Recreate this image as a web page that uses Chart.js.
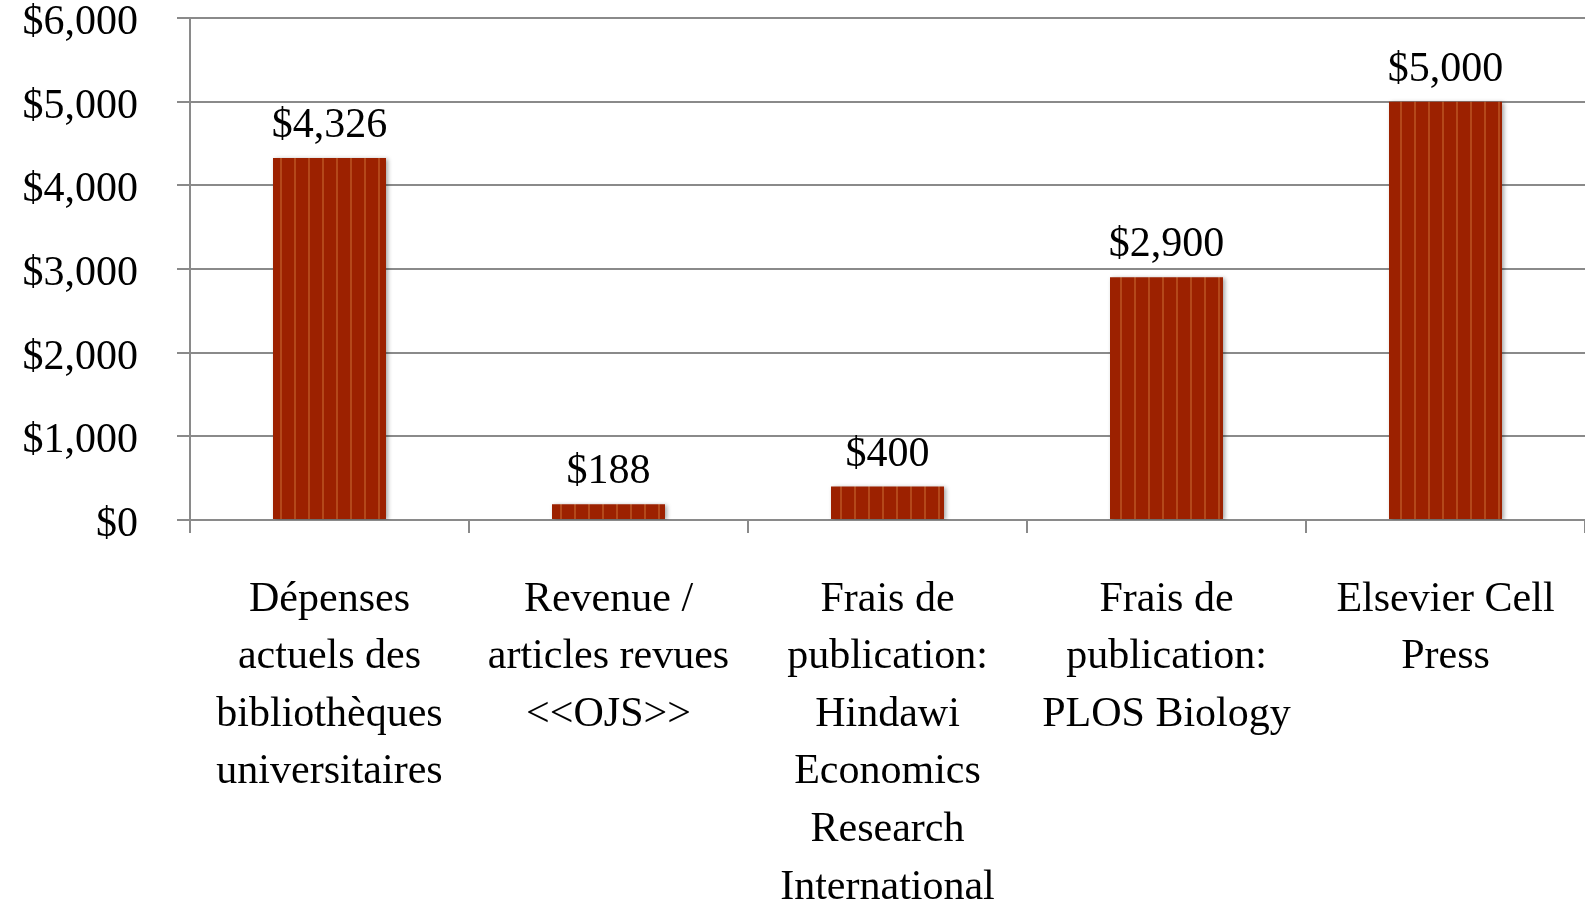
<!DOCTYPE html>
<html>
<head>
<meta charset="utf-8">
<script src="https://cdn.jsdelivr.net/npm/chart.js@4.4.0/dist/chart.umd.min.js"></script>
<style>
  html, body { margin: 0; padding: 0; background: #fff; overflow: hidden; }
  #wrap { width: 1585px; height: 900px; }
</style>
</head>
<body>
<div id="wrap"><canvas id="cout"></canvas></div>
<script>
const categories = [
  ['Dépenses', 'actuels des', 'bibliothèques', 'universitaires'],
  ['Revenue /', 'articles revues', '<<OJS>>'],
  ['Frais de', 'publication:', 'Hindawi', 'Economics', 'Research', 'International'],
  ['Frais de', 'publication:', 'PLOS Biology'],
  ['Elsevier Cell', 'Press']
];
const couts = [4326, 188, 400, 2900, 5000];
const yTicks = [0, 1000, 2000, 3000, 4000, 5000, 6000];

const fmt = v => '$' + v.toLocaleString('en-US');

// rayures verticales des barres
const pc = document.createElement('canvas');
pc.width = 14; pc.height = 10;
const pctx = pc.getContext('2d');
pctx.fillStyle = '#9c2100';
pctx.fillRect(0, 0, 14, 10);
pctx.fillStyle = '#b4481a';
pctx.fillRect(0, 0, 2, 10);
const stripes = pctx.createPattern(pc, 'repeat');

const FONT = "'Liberation Serif', 'Times New Roman', serif";

const valeurs = {
  id: 'valeurs',
  beforeDatasetDraw(chart) {
    const c = chart.ctx;
    c.save();
    c.shadowColor = 'rgba(0,0,0,0.35)';
    c.shadowBlur = 4;
    c.shadowOffsetX = 2;
    c.shadowOffsetY = 1;
  },
  afterDatasetDraw(chart) {
    chart.ctx.restore();
  },
  afterDatasetsDraw(chart) {
    const c = chart.ctx;
    const meta = chart.getDatasetMeta(0);
    c.save();
    c.font = '42px ' + FONT;
    c.fillStyle = '#000';
    c.textAlign = 'center';
    c.textBaseline = 'middle';
    meta.data.forEach((bar, i) => {
      c.fillText(fmt(couts[i]), bar.x, bar.y - 32);
    });
    c.restore();
  }
};

new Chart(document.getElementById('cout'), {
  type: 'bar',
  data: {
    labels: categories,
    datasets: [{
      data: couts,
      backgroundColor: stripes,
      borderWidth: 0,
      barPercentage: 0.5,
      categoryPercentage: 0.81
    }]
  },
  options: {
    responsive: true,
    maintainAspectRatio: false,
    animation: false,
    layout: { padding: { top: 18, left: 0, right: 0, bottom: 0 } },
    plugins: {
      legend: { display: false },
      tooltip: { enabled: false }
    },
    scales: {
      x: {
        grid: {
          drawOnChartArea: false,
          drawTicks: true,
          tickLength: 13,
          color: '#8a8a8a',
          lineWidth: 2
        },
        border: { color: '#8a8a8a', width: 2 },
        ticks: {
          color: '#000',
          padding: 38,
          maxRotation: 0,
          autoSkip: false,
          font: { family: FONT, size: 42, lineHeight: 1.37 }
        },
        afterFit(scale) {
          scale.height = 380;
          scale.paddingLeft = 0;
          scale.paddingRight = 0;
          scale.paddingTop = 0;
          scale.paddingBottom = 0;
        }
      },
      y: {
        min: 0,
        max: 6000,
        afterBuildTicks(scale) { scale.ticks = yTicks.map(v => ({ value: v })); },
        grid: {
          color: '#8a8a8a',
          lineWidth: 2,
          tickLength: 13
        },
        border: { color: '#8a8a8a', width: 2 },
        ticks: {
          color: '#000',
          padding: 39,
          labelOffset: 5,
          font: { family: FONT, size: 42 },
          callback: v => fmt(v)
        },
        afterFit(scale) {
          scale.width = 190;
          scale.paddingTop = 0;
          scale.paddingBottom = 0;
        }
      }
    }
  },
  plugins: [valeurs]
});
</script>
</body>
</html>
